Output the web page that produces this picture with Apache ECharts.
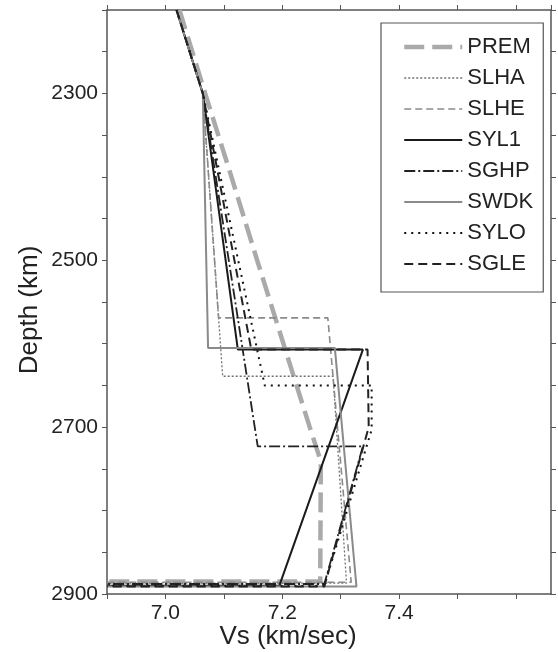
<!DOCTYPE html>
<html>
<head>
<meta charset="utf-8">
<script src="https://cdn.jsdelivr.net/npm/echarts@6/dist/echarts.min.js"></script>
<style>
  html, body { margin: 0; padding: 0; background: #fff; }
  #chart { width: 558px; height: 652px; }
</style>
</head>
<body>
<div id="chart"></div>
<script>
// depth (km) / Vs (km/s) pairs for each model
var premDepth = [2200, 2300, 2400, 2500, 2600, 2700, 2741, 2885, 2885];
var premVs    = [7.024, 7.068, 7.113, 7.157, 7.202, 7.247, 7.266, 7.265, 6.9];

var slhaDepth = [2200, 2300, 2639, 2639, 2887, 2887];
var slhaVs    = [7.019, 7.064, 7.098, 7.287, 7.310, 6.9];

var slheDepth = [2200, 2300, 2569, 2569, 2886, 2886];
var slheVs    = [7.019, 7.064, 7.091, 7.278, 7.318, 6.9];

var syl1Depth = [2200, 2300, 2607, 2607, 2890, 2890];
var syl1Vs    = [7.019, 7.064, 7.124, 7.338, 7.195, 6.9];

var sghpDepth = [2200, 2300, 2723, 2723, 2888, 2888];
var sghpVs    = [7.019, 7.064, 7.158, 7.338, 7.272, 6.9];

var swdkDepth = [2200, 2300, 2605, 2605, 2891, 2891];
var swdkVs    = [7.019, 7.064, 7.073, 7.290, 7.327, 6.9];

var syloDepth = [2200, 2300, 2650, 2650, 2703, 2890, 2890];
var syloVs    = [7.019, 7.064, 7.170, 7.353, 7.353, 7.272, 6.9];

var sgleDepth = [2200, 2300, 2607, 2607, 2700, 2891, 2891];
var sgleVs    = [7.019, 7.064, 7.147, 7.346, 7.348, 7.272, 6.9];

var depthLabels = [2300, 2500, 2700, 2900];
var vsLabels = [7.0, 7.2, 7.4];

var FONT = 'Liberation Sans';

function pairs(vs, depth) {
  var out = [];
  for (var i = 0; i < vs.length; i++) out.push([vs[i], depth[i]]);
  return out;
}

var styles = {
  PREM: { color: '#aaaaaa', width: 4.5, type: [20, 8] },
  SLHA: { color: '#707070', width: 1.3, type: [2, 2] },
  SLHE: { color: '#8a8a8a', width: 1.6, type: [7, 4] },
  SYL1: { color: '#1a1a1a', width: 2, type: 'solid' },
  SGHP: { color: '#222222', width: 1.8, type: [11, 3, 2, 3] },
  SWDK: { color: '#8a8a8a', width: 2, type: 'solid' },
  SYLO: { color: '#111111', width: 2, type: [2, 5] },
  SGLE: { color: '#222222', width: 2, type: [9, 5] }
};

function mk(name, vs, depth) {
  var s = styles[name];
  return {
    name: name,
    type: 'line',
    symbol: 'none',
    showSymbol: false,
    data: pairs(vs, depth),
    lineStyle: { color: s.color, width: s.width, type: s.type },
    itemStyle: { color: s.color },
    z: name == 'PREM' ? 1 : 2
  };
}

var frame = { show: true, lineStyle: { color: '#555', width: 1.5 } };
var ticks = { show: true, inside: false, length: 5, lineStyle: { color: '#555', width: 1 } };

var names = ['PREM', 'SLHA', 'SLHE', 'SYL1', 'SGHP', 'SWDK', 'SYLO', 'SGLE'];
var legendData = names.map(function (n) {
  var s = styles[n];
  return { name: n, itemStyle: { opacity: 0 }, lineStyle: { color: s.color, width: s.width, type: s.type } };
});

var chart = echarts.init(document.getElementById('chart'));
var option = {
  animation: false,
  backgroundColor: '#fff',
  grid: { left: 107, right: 7, top: 10, bottom: 58 },
  xAxis: [
    {
      type: 'value', position: 'bottom', min: 6.9, max: 7.66, interval: 0.1,
      axisLine: frame, axisTick: ticks, splitLine: { show: false },
      axisLabel: {
        fontFamily: FONT, fontSize: 21, color: '#222', margin: 9, showMaxLabel: false,
        formatter: function (v) {
          for (var i = 0; i < vsLabels.length; i++) {
            if (Math.abs(v - vsLabels[i]) < 1e-6) return vsLabels[i].toFixed(1);
          }
          return '';
        }
      }
    },
    {
      type: 'value', position: 'top', min: 6.9, max: 7.66, interval: 0.1,
      axisLine: frame, axisTick: ticks, splitLine: { show: false },
      axisLabel: { show: false }
    }
  ],
  yAxis: [
    {
      type: 'value', position: 'left', min: 2200, max: 2900, interval: 50, inverse: true,
      axisLine: frame, axisTick: ticks, splitLine: { show: false },
      axisLabel: {
        fontFamily: FONT, fontSize: 21, color: '#222', margin: 9,
        formatter: function (v) {
          return depthLabels.indexOf(v) >= 0 ? String(v) : '';
        }
      }
    },
    {
      type: 'value', position: 'right', min: 2200, max: 2900, interval: 50, inverse: true,
      axisLine: frame, axisTick: ticks, splitLine: { show: false },
      axisLabel: { show: false }
    }
  ],
  legend: {
    orient: 'vertical',
    left: 381, top: 23,
    padding: [13, 10, 17, 21],
    itemWidth: 58, itemHeight: 14, itemGap: 9,
    borderColor: '#555', borderWidth: 1.2,
    selectedMode: false,
    itemStyle: { opacity: 0 },
    textStyle: { fontFamily: FONT, fontSize: 22, color: '#222', lineHeight: 22 },
    data: legendData
  },
  graphic: [
    {
      type: 'text', x: 30, y: 310, rotation: Math.PI / 2,
      style: { text: 'Depth (km)', fontFamily: FONT, fontSize: 26, fill: '#222', align: 'center', verticalAlign: 'middle' }
    },
    {
      type: 'text', x: 288, y: 637,
      style: { text: 'Vs (km/sec)', fontFamily: FONT, fontSize: 26, fill: '#222', align: 'center', verticalAlign: 'middle' }
    }
  ],
  series: [
    mk('PREM', premVs, premDepth),
    mk('SLHA', slhaVs, slhaDepth),
    mk('SLHE', slheVs, slheDepth),
    mk('SYL1', syl1Vs, syl1Depth),
    mk('SGHP', sghpVs, sghpDepth),
    mk('SWDK', swdkVs, swdkDepth),
    mk('SYLO', syloVs, syloDepth),
    mk('SGLE', sgleVs, sgleDepth)
  ]
};
chart.setOption(option);
</script>
</body>
</html>
